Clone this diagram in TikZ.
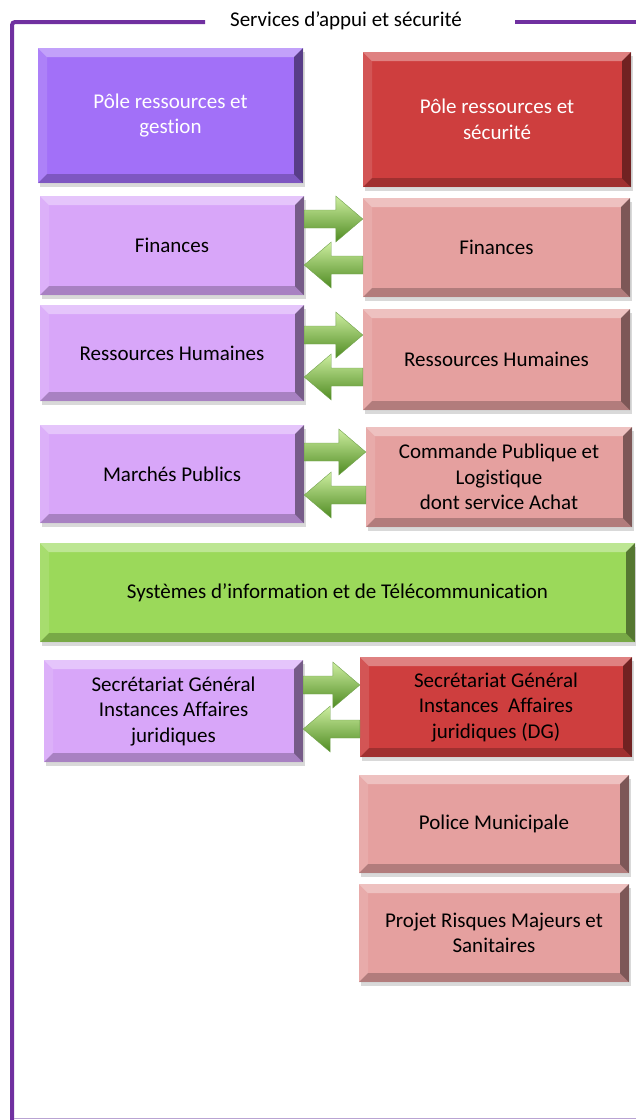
\documentclass[tikz,border=0pt]{standalone}
\usepackage{fontspec}
\setmainfont{Carlito}[Ligatures=NoCommon]
\usetikzlibrary{calc,shadows}

\definecolor{cadre}{HTML}{7030A0}
\definecolor{cadreclair}{HTML}{B9A3D3}
\definecolor{violetF}{HTML}{A270F8}
\definecolor{violetC}{HTML}{D8A6F9}
\definecolor{rougeF}{HTML}{CE3E3E}
\definecolor{roseC}{HTML}{E5A09F}
\definecolor{vertSI}{HTML}{9BD95A}
\definecolor{vertH}{HTML}{CDEEA0}
\definecolor{vertM}{HTML}{98D05A}
\definecolor{vertB}{HTML}{4F8B22}

% double-headed link between two services: arrow from #1 to #2
\def\greenarrow(#1)(#2){\shade[arrowshade] ($(#1)+(0,9pt)$) -- ($(#2)!27pt!(#1)+(0,9pt)$) -- ($(#2)!27pt!(#1)+(0,23pt)$) -- (#2) -- ($(#2)!27pt!(#1)+(0,-23pt)$) -- ($(#2)!27pt!(#1)+(0,-9pt)$) -- ($(#1)+(0,-9pt)$) -- cycle;}

\tikzset{
	bevel/.style={rectangle, inner sep=0pt, align=center, fill=#1,
		drop shadow={shadow xshift=2pt, shadow yshift=-4pt, opacity=.3},
		path picture={
			\coordinate (nw) at (path picture bounding box.north west);
			\coordinate (ne) at (path picture bounding box.north east);
			\coordinate (sw) at (path picture bounding box.south west);
			\coordinate (se) at (path picture bounding box.south east);
			\fill[white, opacity=.35] (nw) -- (ne) -- ([shift={(-9pt,-9pt)}]ne) -- ([shift={(9pt,-9pt)}]nw) -- cycle;
			\fill[white, opacity=.12] (nw) -- ([shift={(9pt,-9pt)}]nw) -- ([shift={(9pt,9pt)}]sw) -- (sw) -- cycle;
			\fill[black, opacity=.22] (sw) -- (se) -- ([shift={(-9pt,9pt)}]se) -- ([shift={(9pt,9pt)}]sw) -- cycle;
			\fill[black, opacity=.45] (ne) -- (se) -- ([shift={(-9pt,9pt)}]se) -- ([shift={(-9pt,-9pt)}]ne) -- cycle;
		}},
	arrowshade/.style={top color=vertH, middle color=vertM, bottom color=vertB, draw=vertB!80, line width=.4pt},
}

\begin{document}
\begin{tikzpicture}[x=1pt, y=-1pt, font=\fontsize{21}{25.5}\selectfont]
	%%%%% START %%%%%
	\useasboundingbox (0,0) rectangle (636,1120);
	
	% frame and title
	\draw[cadre, line width=4pt, rounded corners=3pt] (205,22) -- (12,22) -- (12,1120);
	\draw[cadre, line width=4pt] (515,22) -- (636,22);
	\draw[cadreclair, line width=1.5pt] (14,1118.5) -- (636,1118.5);
	\node (titre) at (346,21) {Services d’appui et sécurité};
	
	% left column
	\node[bevel=violetF, text=white, minimum width=265pt, minimum height=135pt] (poleG) at (170.5,115.5) {Pôle ressources et\\gestion};
	\node[bevel=violetC, minimum width=264pt, minimum height=99pt] (finL) at (172,245.5) {Finances};
	\node[bevel=violetC, minimum width=264pt, minimum height=96pt] (rhL) at (172,353) {Ressources Humaines};
	\node[bevel=violetC, minimum width=264pt, minimum height=98pt] (mpL) at (172,474) {Marchés Publics};
	\node[bevel=violetC, minimum width=259pt, minimum height=102pt] (sgL) at (173.5,711) {Secrétariat Général\\Instances Affaires\\juridiques};
	
	% right column
	\node[bevel=rougeF, text=white, minimum width=268pt, minimum height=135pt] (poleS) at (497,119.5) {Pôle ressources et\\sécurité};
	\node[bevel=roseC, minimum width=267pt, minimum height=99pt] (finR) at (496.5,247.5) {Finances};
	\node[bevel=roseC, minimum width=267pt, minimum height=101pt] (rhR) at (496.5,359.5) {Ressources Humaines};
	\node[bevel=roseC, minimum width=266pt, minimum height=100pt] (cpR) at (499,477) {Commande Publique et\\Logistique\\dont service Achat};
	\node[bevel=rougeF, minimum width=272pt, minimum height=100pt] (sgR) at (496,707) {Secrétariat Général\\Instances~ Affaires\\juridiques (DG)};
	\node[bevel=roseC, minimum width=270pt, minimum height=98pt] (pm) at (494,824) {Police Municipale};
	\node[bevel=roseC, minimum width=270pt, minimum height=98pt] (prj) at (494,933) {Projet Risques Majeurs et\\Sanitaires};
	
	% full width
	\node[bevel=vertSI, minimum width=595pt, minimum height=99pt] (si) at (337.5,592.5) {Systèmes d’information et de Télécommunication};
	
	% links between the two poles
	\foreach \g/\d/\up/\dn in {finL/finR/26.5/19.5, rhL/rhR/18/24, mpL/cpR/22/21, sgL/sgR/26/18}{
		\coordinate (ga) at ([yshift=\up pt]\g.east);
		\coordinate (da) at (\d.west |- ga);
		\greenarrow(ga)(da)
		\coordinate (gb) at ([yshift=-\dn pt]\g.east);
		\coordinate (db) at (\d.west |- gb);
		\greenarrow(db)(gb)
	}
	%%%%% END %%%%%
\end{tikzpicture}
\end{document}
